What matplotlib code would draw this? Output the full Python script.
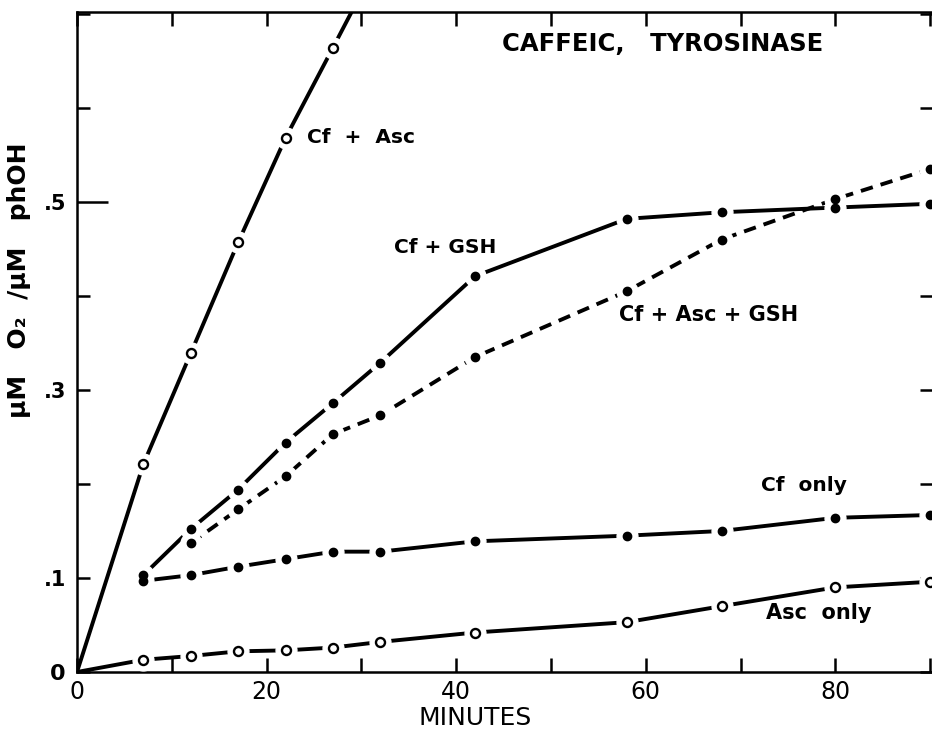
import matplotlib
matplotlib.use("Agg")
import matplotlib.pyplot as plt

# sampling times (min) shared by most curves
minutes = [7, 12, 17, 22, 27, 32, 42, 58, 68, 80, 90]

# Cf + Asc: starts at origin, runs off the top after 27 min
cf_asc_t = [0, 7, 12, 17, 22, 27, 30]
cf_asc = [0.0, 0.221, 0.339, 0.457, 0.568, 0.664, 0.722]
cf_asc_marks = [1, 2, 3, 4, 5]

cf_gsh = [0.103, 0.152, 0.194, 0.244, 0.286, 0.329, 0.421, 0.482, 0.489, 0.494, 0.498]

cf_asc_gsh_t = [12, 17, 22, 27, 32, 42, 58, 68, 80, 90]
cf_asc_gsh = [0.137, 0.173, 0.208, 0.253, 0.273, 0.335, 0.405, 0.460, 0.503, 0.535]

cf_only = [0.097, 0.103, 0.112, 0.120, 0.128, 0.128, 0.139, 0.145, 0.150, 0.164, 0.167]

asc_only_t = [0] + minutes
asc_only = [0.0, 0.013, 0.017, 0.022, 0.023, 0.026, 0.032, 0.042, 0.053, 0.070, 0.090, 0.096]

x_ticks = list(range(0, 91, 10))
x_labels = ["0", "", "20", "", "40", "", "60", "", "80", ""]
y_ticks = [0, 0.1, 0.2, 0.3, 0.4, 0.5, 0.6, 0.7]
y_labels = ["0", ".1", "", ".3", "", ".5", "", ""]


def draw_series(ax, t, v, marks, filled, dashes=None):
    kw = dict(color="black", lw=2.8, solid_capstyle="butt", dash_capstyle="butt", zorder=2)
    if dashes:
        ax.plot(t, v, dashes=dashes, **kw)
    else:
        ax.plot(t, v, **kw)
    mt = [t[i] for i in marks]
    mv = [v[i] for i in marks]
    # white halo so the line breaks around each point, like the drawn original
    ax.plot(mt, mv, ls="none", marker="o", ms=15, mfc="white", mec="white", zorder=3)
    if filled:
        ax.plot(mt, mv, ls="none", marker="o", ms=6, mfc="black", mec="black", zorder=4)
    else:
        ax.plot(mt, mv, ls="none", marker="o", ms=6.5, mfc="white", mec="black", mew=1.7, zorder=4)


fig = plt.figure(figsize=(9.32, 7.30), dpi=100)
ax = fig.add_axes([77 / 932, 58 / 730, 855 / 932, 660 / 730])

draw_series(ax, cf_asc_t, cf_asc, cf_asc_marks, filled=False)
draw_series(ax, minutes, cf_gsh, range(len(minutes)), filled=True)
draw_series(ax, cf_asc_gsh_t, cf_asc_gsh, range(len(cf_asc_gsh_t)), filled=True, dashes=(3.2, 2.1))
draw_series(ax, minutes, cf_only, range(len(minutes)), filled=True)
draw_series(ax, asc_only_t, asc_only, range(1, len(asc_only_t)), filled=False)

ax.set_xlim(0, 90.2)
ax.set_ylim(0, 0.702)

ax.set_xticks(x_ticks)
ax.set_xticklabels(x_labels)
ax.set_yticks(y_ticks)
ax.set_yticklabels(y_labels)
ax.tick_params(axis="x", direction="in", length=10, width=1.8, top=True, labelsize=17, pad=6)
ax.tick_params(axis="y", direction="in", length=9, width=1.8, right=True, labelsize=15, pad=8)
for lab in ax.get_yticklabels():
    lab.set_fontweight("bold")
ax.get_yticklabels()[0].set_fontsize(16)
ax.yaxis.get_major_ticks()[5].tick1line.set_markersize(22)

for side in ["left", "bottom", "top"]:
    ax.spines[side].set_linewidth(1.8)
ax.spines["right"].set_visible(False)

ax.set_xlabel("MINUTES", fontsize=18)
ax.xaxis.set_label_coords(0.4655, -0.052)
ax.text(-0.068, 0.594, "μM   O₂  /μM   phOH", transform=ax.transAxes, rotation=90,
        ha="center", va="center", fontsize=18, fontweight="bold")

txt = dict(fontweight="bold", va="center", ha="left")
ax.text(44.8, 0.668, "CAFFEIC,   TYROSINASE", fontsize=17.5, **txt)
ax.text(24.3, 0.568, "Cf  +  Asc", fontsize=14.5, **txt)
ax.text(33.4, 0.451, "Cf + GSH", fontsize=14.5, **txt)
ax.text(57.2, 0.380, "Cf + Asc + GSH", fontsize=15, **txt)
ax.text(72.2, 0.198, "Cf  only", fontsize=14.5, **txt)
ax.text(72.7, 0.063, "Asc  only", fontsize=15, **txt)

fig.savefig("out.png", dpi=100)
